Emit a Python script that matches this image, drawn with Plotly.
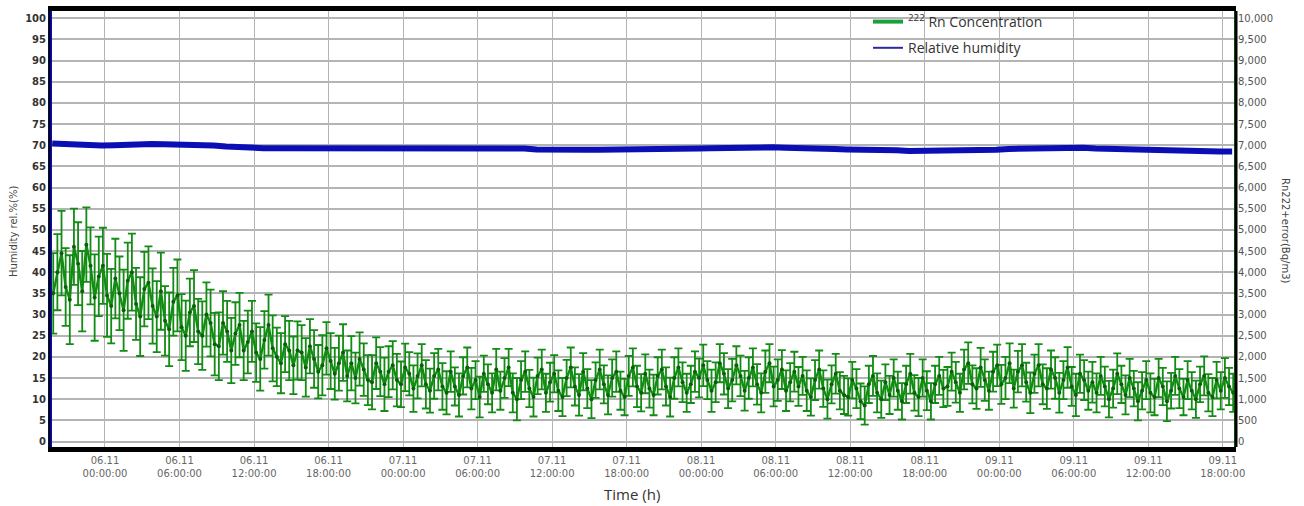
import pandas as pd
import plotly.graph_objects as go

# --- data -------------------------------------------------------------------
# Radon-222 concentration (Bq/m3), one reading every 20 minutes
RN_START = "2016-11-05 19:50"
RN_STEP = "20min"
rn_values = [
    3500, 4000, 4450, 3650, 3350, 4600, 4200, 3550, 4650, 4150, 3400, 3900,
    4150, 3450, 3200, 3850, 3500, 3100, 3800, 4000, 3250, 2950, 3600, 3750,
    3200, 2950, 3550, 2850, 2650, 3300, 3450, 2700, 2500, 3050, 3200, 2600,
    2500, 3000, 2800, 2300, 2250, 2800, 2600, 2150, 2550, 2750, 2150, 2350,
    2600, 2100, 1950, 2400, 2750, 2200, 2000, 1850, 2300, 2150, 1800, 2150,
    2100, 1750, 2250, 1950, 1650, 1800, 2200, 1900, 1600, 1850, 2100, 1550,
    1850, 1500, 1950, 1700, 1450, 1400, 1850, 1650, 1350, 1650, 1800, 1450,
    1350, 1750, 1600, 1250, 1550, 1800, 1350, 1200, 1550, 1700, 1300, 1150,
    1650, 1300, 1100, 1550, 1750, 1250, 1450, 1050, 1600, 1350, 1150, 1700,
    1200, 1500, 1750, 1150, 1000, 1450, 1650, 1250, 1050, 1550, 1700, 1150,
    1400, 1600, 1200, 1050, 1500, 1750, 1300, 1100, 1650, 1250, 1000, 1450,
    1700, 1350, 1100, 1500, 1650, 1200, 1050, 1550, 1750, 1300, 1150, 1600,
    1250, 1100, 1550, 1700, 1300, 1050, 1500, 1750, 1400, 1150, 1350, 1650,
    1500, 1800, 1450, 1200, 1400, 1850, 1600, 1250, 1450, 1800, 1550, 1200,
    1500, 1750, 1350, 1150, 1650, 1850, 1300, 1450, 1700, 1200, 1400, 1650,
    1300, 1550, 1200, 1050, 1450, 1700, 1250, 1000, 1350, 1600, 1200, 1100,
    1050, 1450, 1250, 950, 850, 1350, 1550, 1150, 1000, 1400, 1100, 1500,
    1200, 950, 1350, 1600, 1150, 1050, 1500, 1200, 950, 1350, 1550, 1250,
    1300, 1650, 1400, 1150, 1700, 1850, 1350, 1250, 1750, 1450, 1200, 1650,
    1800, 1350, 1500, 1850, 1250, 1650, 1800, 1400, 1150, 1600, 1800, 1350,
    1250, 1700, 1500, 1150, 1450, 1750, 1300, 1100, 1600, 1450, 1200, 1400,
    1150, 1550, 1300, 1000, 1250, 1600, 1350, 1100, 1500, 1250, 950, 1200,
    1450, 1150, 1050, 1500, 1300, 950, 1200, 1550, 1250, 1050, 1450, 1200,
    1000, 1350, 1550, 1150, 1050, 1450, 1200, 1500, 1300, 1150,
]
rn_errors = [
    950, 900, 1000, 920, 1050, 900, 980, 950, 880, 910, 1020, 940,
    900, 980, 880, 940, 870, 960, 900, 910, 850, 930, 880, 860,
    890, 840, 910, 820, 870, 800, 850, 780, 830, 800, 850, 770,
    810, 760, 790, 740, 800, 750, 720, 770, 740, 760, 700, 740,
    720, 690, 750, 680, 720, 780, 690, 710, 660, 700, 680, 690,
    650, 690, 640, 680, 630, 710, 620, 660, 610, 650, 670, 600,
    640, 600, 630, 620, 590, 640, 610, 580, 630, 600, 570, 620,
    540, 560, 510, 550, 530, 500, 570, 520, 540, 490, 550, 510,
    480, 450, 510, 440, 470, 490, 450, 480, 430, 470, 460, 490,
    450, 470, 440, 460, 500, 450, 480, 440, 460, 430, 470, 450,
    460, 440, 480, 450, 430, 470, 450, 490, 440, 460, 450, 420,
    470, 450, 460, 440, 480, 450, 430, 470, 450, 490, 440, 460,
    450, 480, 440, 470, 450, 460, 490, 450, 470, 450, 440, 480,
    460, 490, 450, 500, 470, 450, 490, 460, 500, 450, 480, 470,
    490, 450, 480, 460, 500, 450, 470, 490, 460, 480, 450, 470,
    460, 450, 480, 440, 470, 450, 430, 460, 450, 470, 440, 450,
    440, 430, 460, 420, 450, 440, 470, 460, 440, 420, 450, 440,
    450, 430, 440, 470, 420, 450, 440, 460, 430, 440, 450, 440,
    460, 450, 480, 450, 470, 490, 450, 480, 460, 490, 450, 470,
    490, 460, 500, 470, 450, 490, 500, 460, 480, 450, 500, 470,
    480, 450, 490, 470, 450, 480, 460, 500, 450, 470, 450, 480,
    460, 450, 470, 430, 450, 480, 440, 460, 450, 420, 450, 440,
    450, 460, 430, 450, 440, 470, 420, 450, 460, 430, 450, 440,
    440, 420, 460, 440, 450, 430, 440, 470, 440, 450,
]

# Relative humidity (%), hourly
RH_START = "2016-11-05 19:45"
RH_STEP = "60min"
rh_values = [
    70.4, 70.2, 70.0, 69.9, 69.9, 70.0, 70.2, 70.2, 70.3, 70.2, 70.2, 70.2,
    70.1, 69.9, 69.7, 69.5, 69.4, 69.3, 69.3, 69.3, 69.3, 69.3, 69.3, 69.3,
    69.4, 69.5, 69.5, 69.5, 69.5, 69.5, 69.5, 69.5, 69.5, 69.5, 69.5, 69.5,
    69.4, 69.4, 69.2, 69.0, 68.9, 68.9, 68.9, 68.9, 68.9, 68.9, 68.9, 68.9,
    68.9, 68.9, 69.0, 69.1, 69.2, 69.3, 69.4, 69.4, 69.3, 69.4, 69.5, 69.4,
    69.4, 69.3, 69.2, 69.1, 69.0, 69.0, 69.0, 68.9, 68.8, 68.6, 68.6, 68.6,
    68.6, 68.6, 68.6, 68.7, 68.9, 69.1, 69.2, 69.3, 69.3, 69.2, 69.3, 69.4,
    69.2, 69.1, 69.0, 69.0, 68.9, 68.9, 68.8, 68.6, 68.6, 68.5, 68.5, 68.5,
]

# time axis
X_RANGE = ["2016-11-05 19:44", "2016-11-09 18:54"]
X_FIRST_TICK = "2016-11-06 00:00"
TICK_STEP_MS = 6 * 3600 * 1000

# axis ranges (left % and right Bq/m3 share the same pixel scale)
RH_RANGE = [-1.3, 101.7]
RN_RANGE = [-130, 10170]

rn_time = pd.date_range(RN_START, periods=len(rn_values), freq=RN_STEP)
rh_time = pd.date_range(RH_START, periods=len(rh_values), freq=RH_STEP)

GREEN = "#128c12"
GREEN_DARK = "#0b5f0b"
BLUE = "#0a0eb4"
GRID = "#b4b4b4"

# --- plot geometry (px) -----------------------------------------------------
W, H = 1304, 506
L, R, T, B = 52, 1234, 11, 447


def px_x(px):
    return (px - L) / (R - L)


def px_y(py):
    return (B - py) / (B - T)


fig = go.Figure()

fig.add_trace(go.Scatter(
    x=rh_time, y=rh_values, mode="lines",
    line=dict(color=BLUE, width=6),
    showlegend=False, yaxis="y",
))

fig.add_trace(go.Scatter(
    x=rn_time, y=rn_values, mode="lines+markers",
    line=dict(color=GREEN, width=2.4),
    marker=dict(color=GREEN_DARK, size=4),
    error_y=dict(type="data", array=rn_errors, visible=True,
                 color=GREEN, thickness=1.8, width=4),
    showlegend=False, yaxis="y2",
))

# legend entries
fig.add_trace(go.Scatter(
    x=[None], y=[None], mode="lines", line=dict(color="#1aa03c", width=4),
    name="<sup>222</sup> Rn Concentration", legendgroup="rn", yaxis="y2",
))
fig.add_trace(go.Scatter(
    x=[None], y=[None], mode="lines", line=dict(color="#2a2aa0", width=2),
    name="Relative humidity", legendgroup="rh", yaxis="y",
))

fig.update_layout(
    width=W, height=H,
    margin=dict(l=L, r=W - R, t=T, b=H - B, pad=0, autoexpand=False),
    paper_bgcolor="white", plot_bgcolor="white",
    font=dict(family="DejaVu Sans", color="#444"),
    xaxis=dict(
        type="date", range=X_RANGE,
        tickmode="linear", tick0=X_FIRST_TICK, dtick=TICK_STEP_MS,
        tickformat="%d.%m<br>%H:%M:%S",
        tickfont=dict(size=10, color="#666"),
        showgrid=True, gridcolor=GRID, gridwidth=1,
        showline=True, linecolor="black", linewidth=5, mirror=True,
        ticks="", zeroline=False, automargin=False,
    ),
    yaxis=dict(
        range=RH_RANGE, tickmode="linear", tick0=0, dtick=5,
        tickfont=dict(size=10, color="#333", family="DejaVu Sans", weight="bold"),
        showgrid=True, gridcolor=GRID, gridwidth=2,
        showline=True, linecolor=BLUE, linewidth=4,
        ticks="", zeroline=False, automargin=False,
    ),
    yaxis2=dict(
        range=RN_RANGE, overlaying="y", side="right",
        tickmode="linear", tick0=0, dtick=500, tickformat=",d",
        tickfont=dict(size=10, color="#555"),
        showgrid=False, showline=True, linecolor=GREEN, linewidth=2,
        ticks="", zeroline=False, automargin=False,
    ),
    legend=dict(
        x=px_x(868), y=px_y(6), xanchor="left", yanchor="top",
        bgcolor="rgba(0,0,0,0)", borderwidth=0,
        font=dict(family="Open Sans", size=14, color="#333"),
        tracegroupgap=5, itemwidth=30,
    ),
    annotations=[
        dict(text="Humidity rel.%(%)", x=px_x(13), y=px_y(232),
             xref="paper", yref="paper", xanchor="center", yanchor="middle",
             showarrow=False, textangle=-90,
             font=dict(size=10, color="#444")),
        dict(text="Rn222+error(Bq/m3)", x=px_x(1286), y=px_y(231),
             xref="paper", yref="paper", xanchor="center", yanchor="middle",
             showarrow=False, textangle=90,
             font=dict(size=10, color="#444")),
        dict(text="Time (h)", x=px_x(632), y=px_y(494),
             xref="paper", yref="paper", xanchor="center", yanchor="middle",
             showarrow=False,
             font=dict(family="Open Sans", size=15, color="#333")),
    ],
    shapes=[
        # outer dark edges next to the coloured value axes
        dict(type="line", xref="paper", yref="paper",
             x0=px_x(49.5), x1=px_x(49.5), y0=px_y(447), y1=px_y(11),
             line=dict(color="black", width=2)),
        dict(type="line", xref="paper", yref="paper",
             x0=px_x(1236), x1=px_x(1236), y0=px_y(447), y1=px_y(11),
             line=dict(color="black", width=3)),
    ],
)

fig.write_html("out.html")
